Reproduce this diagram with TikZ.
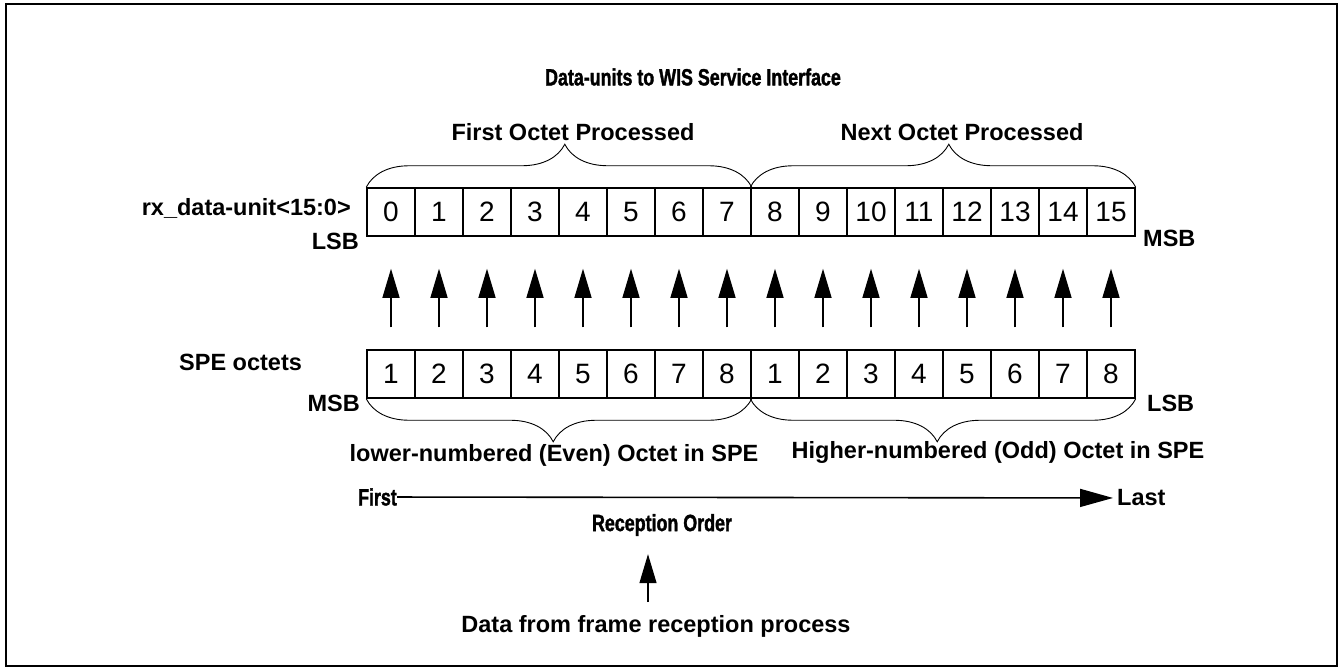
\documentclass[tikz,border=0pt]{standalone}
\usepackage{fontspec}
\setmainfont{Liberation Sans}
\newfontfamily\narrowfont[FakeStretch=0.76,FakeBold=1.5]{Liberation Sans Bold}
\usetikzlibrary{calc,arrows.meta,decorations.pathreplacing}

\tikzset{
  cell/.style={rectangle, draw, line width=1.5pt, minimum width=48pt, minimum height=48pt, inner sep=0pt, font=\fontsize{28}{32}\selectfont},
  lbl/.style={inner sep=0pt, font=\bfseries\fontsize{23.5}{28}\selectfont},
  nlbl/.style={inner sep=0pt, font=\narrowfont\fontsize{23.5}{28}\selectfont},
  upar/.style={line width=1.3pt, -{Triangle[length=29pt,width=17pt]}},
  octbrace/.style={decorate, decoration={brace, amplitude=43pt, aspect=0.515}, line width=0.9pt},
}

\begin{document}
\begin{tikzpicture}[x=1pt,y=-1pt]

\useasboundingbox (0,0) rectangle (1344,669);
\draw [line width=2.5pt] (6,4) rectangle (1337,666);

% data-unit row, SPE octet row and the arrows between them
\foreach \i in {0,...,15} {
    \pgfmathsetmacro\octno{int(mod(\i,8)+1)}
    \node [cell] (du-\i) at (391+48*\i,212) {\i};
    \node [cell] (spe-\i) at (391+48*\i,374) {\octno};
    \draw [upar, shorten <=22pt, shorten >=32pt] (spe-\i.north) -- (du-\i.south);
}

\draw [octbrace] (du-0.north west) -- (du-7.north east);
\draw [octbrace] (du-8.north west) -- (du-15.north east);
\draw [octbrace] (spe-7.south east) -- (spe-0.south west);
\draw [octbrace] (spe-15.south east) -- (spe-8.south west);

\node [nlbl] (title) at (693,77) {Data-units to WIS Service Interface};
\node [lbl] (first-oct) at (573,132) {First Octet Processed};
\node [lbl] (next-oct) at (962,132) {Next Octet Processed};

\node [lbl, anchor=east] (du-name) at (351,208) {rx\_data-unit<15:0>};
\node [lbl, anchor=east] (du-lsb) at (359,241) {LSB};
\node [lbl, anchor=west] (du-msb) at (1143,238) {MSB};

\node [lbl, anchor=west] (spe-name) at (179,362) {SPE octets};
\node [lbl, anchor=east] (spe-msb) at (360,403) {MSB};
\node [lbl, anchor=west] (spe-lsb) at (1147,403) {LSB};

\node [lbl] (even-oct) at (554,455) {lower-numbered (Even) Octet in SPE};
\node [lbl] (odd-oct) at (998,452) {Higher-numbered (Odd) Octet in SPE};

%%%%%%%%%%%%%%%%%%%%%%%%%%%%%%%%%%%%%%%%%%%%%%%%%%%%%%%%%%%%%%%%%%%%%%%%

\node [nlbl, anchor=east] (first) at (397,497) {First};
\node [lbl, anchor=west] (last) at (1117,498) {Last};
\draw [line width=1.6pt, -{Triangle[length=33pt,width=18pt]}, shorten >=4pt] (first) -- (last);

\node [nlbl] (recv) at (662,525) {Reception Order};
\node [lbl] (datain) at (656,626) {Data from frame reception process};
\coordinate (feed) at (648,602);
\draw [upar, shorten >=18pt] (feed) -- (feed |- recv.south);

\end{tikzpicture}
\end{document}
